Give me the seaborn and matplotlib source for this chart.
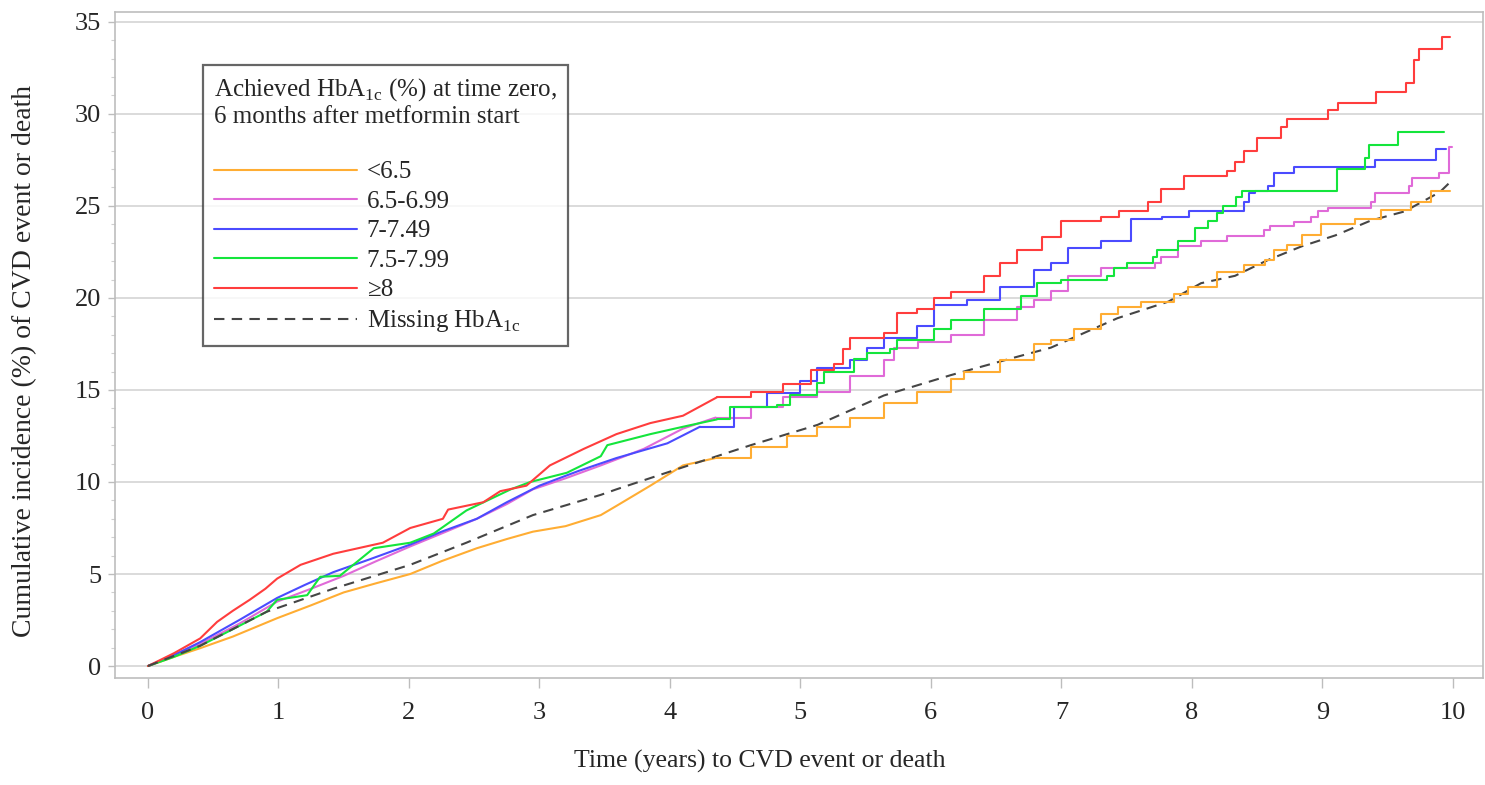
import numpy as np
import pandas as pd
import matplotlib
matplotlib.use("Agg")
import matplotlib.pyplot as plt
from matplotlib.ticker import MultipleLocator
import seaborn as sns

# Cumulative incidence curves (time in years, incidence in %)
lt65_t = [0, 0.2, 0.4, 0.65, 0.99, 1.25, 1.5, 1.75, 2.01, 2.25, 2.52, 2.75, 2.95, 3.2, 3.47, 3.59,
          3.85, 4.1, 4.35, 4.62, 4.9, 5.13, 5.38, 5.64, 5.89, 6.15, 6.25, 6.53, 6.79, 6.92, 7.1, 7.3,
          7.43, 7.61, 7.86, 7.97, 8.19, 8.40, 8.56, 8.63, 8.73, 8.84, 8.99, 9.25, 9.45, 9.68, 9.83, 9.98]
lt65_v = [0, 0.5, 0.97, 1.6, 2.6, 3.3, 4.0, 4.5, 5.0, 5.7, 6.4, 6.9, 7.3, 7.6, 8.2, 8.7,
          9.8, 10.9, 11.3, 11.9, 12.5, 13.0, 13.5, 14.3, 14.9, 15.6, 16.0, 16.6, 17.5, 17.7, 18.3, 19.1,
          19.5, 19.8, 20.2, 20.6, 21.4, 21.8, 22.05, 22.6, 22.9, 23.4, 24.0, 24.3, 24.8, 25.2, 25.8, 25.8]

g65_t = [0, 0.2, 0.4, 0.7, 0.99, 1.25, 1.5, 1.75, 2.01, 2.25, 2.52, 2.75, 2.95, 3.2, 3.47, 3.8,
         4.1, 4.35, 4.62, 4.87, 5.13, 5.38, 5.64, 5.72, 5.9, 6.15, 6.41, 6.66, 6.79, 6.92, 7.05, 7.3,
         7.72, 7.76, 7.89, 8.07, 8.27, 8.55, 8.6, 8.78, 8.91, 8.97, 9.04, 9.37, 9.40, 9.66, 9.69,
         9.89, 9.97, 9.99]
g65_v = [0, 0.6, 1.2, 2.3, 3.5, 4.2, 4.9, 5.7, 6.5, 7.2, 8.0, 8.8, 9.6, 10.2, 10.9, 11.8,
         12.9, 13.5, 14.1, 14.6, 14.9, 15.75, 16.6, 17.3, 17.6, 18.0, 18.8, 19.5, 19.9, 20.4, 21.2, 21.6,
         21.9, 22.2, 22.8, 23.1, 23.35, 23.7, 23.9, 24.1, 24.4, 24.7, 24.9, 25.2, 25.7, 26.1, 26.5,
         26.8, 28.2, 28.2]

g7_t = [0, 0.2, 0.4, 0.7, 0.99, 1.2, 1.42, 1.7, 2.01, 2.25, 2.52, 2.75, 3.0, 3.3, 3.59, 3.98,
        4.23, 4.49, 4.74, 5.0, 5.13, 5.38, 5.51, 5.64, 5.89, 6.02, 6.28, 6.53, 6.79, 6.92, 7.05, 7.3,
        7.53, 7.77, 7.98, 8.40, 8.44, 8.48, 8.58, 8.63, 8.78, 9.40, 9.87, 9.95]
g7_v = [0, 0.6, 1.3, 2.5, 3.7, 4.4, 5.1, 5.8, 6.6, 7.3, 8.0, 8.9, 9.8, 10.6, 11.3, 12.1,
        13.0, 14.1, 14.85, 15.5, 16.2, 16.6, 17.3, 17.8, 18.5, 19.6, 19.9, 20.6, 21.5, 21.9, 22.7, 23.1,
        24.3, 24.4, 24.7, 25.2, 25.7, 25.8, 26.1, 26.8, 27.1, 27.5, 28.1, 28.1]

g75_t = [0, 0.2, 0.4, 0.65, 0.91, 0.99, 1.22, 1.32, 1.47, 1.73, 2.01, 2.19, 2.44, 2.78, 2.93, 3.21,
         3.47, 3.52, 3.85, 4.1, 4.36, 4.46, 4.82, 4.92, 5.13, 5.18, 5.41, 5.51, 5.69, 5.74, 6.02, 6.15,
         6.41, 6.69, 6.81, 7.0, 7.35, 7.4, 7.5, 7.70, 7.73, 7.89, 8.02, 8.12, 8.19, 8.24, 8.34, 8.38,
         9.11, 9.33, 9.36, 9.58, 9.93]
g75_v = [0, 0.5, 1.1, 2.0, 2.95, 3.6, 3.85, 4.85, 4.9, 6.4, 6.7, 7.2, 8.45, 9.6, 10.0, 10.5,
         11.4, 12.0, 12.6, 13.0, 13.4, 14.1, 14.2, 14.7, 15.4, 16.0, 16.7, 17.0, 17.2, 17.7, 18.3, 18.8,
         19.4, 20.1, 20.8, 21.0, 21.2, 21.6, 21.9, 22.2, 22.6, 23.1, 23.8, 24.2, 24.6, 25.0, 25.5, 25.8,
         27.0, 27.6, 28.3, 29.0, 29.0]

g8_t = [0, 0.2, 0.4, 0.53, 0.65, 0.78, 0.9, 0.99, 1.17, 1.42, 1.8, 2.01, 2.26, 2.3, 2.57, 2.7,
        2.9, 3.08, 3.34, 3.59, 3.85, 4.1, 4.23, 4.36, 4.62, 4.87, 5.08, 5.26, 5.33, 5.38, 5.64, 5.74,
        5.89, 6.02, 6.15, 6.41, 6.53, 6.66, 6.85, 7.0, 7.3, 7.44, 7.66, 7.76, 7.94, 8.27, 8.33, 8.4,
        8.5, 8.68, 8.73, 9.04, 9.12, 9.41, 9.64, 9.7, 9.74, 9.92, 9.98]
g8_v = [0, 0.7, 1.5, 2.4, 3.0, 3.6, 4.2, 4.75, 5.5, 6.1, 6.7, 7.5, 8.0, 8.5, 8.9, 9.5,
        9.8, 10.9, 11.8, 12.6, 13.2, 13.6, 14.1, 14.6, 14.9, 15.3, 16.1, 16.4, 17.2, 17.8, 18.1, 19.2,
        19.4, 20.0, 20.3, 21.2, 21.9, 22.6, 23.3, 24.2, 24.4, 24.7, 25.2, 25.9, 26.6, 26.9, 27.4, 28.0,
        28.7, 29.3, 29.7, 30.2, 30.6, 31.2, 31.7, 32.9, 33.5, 34.2, 34.2]

miss_t = [0, 0.4, 0.91, 1.42, 2.01, 2.44, 2.95, 3.47, 3.59, 4.1, 4.62, 5.13, 5.64, 6.15, 6.66,
          6.92, 7.43, 7.82, 8.07, 8.33, 8.58, 8.84, 9.1, 9.37, 9.63, 9.9, 9.98]
miss_v = [0, 1.1, 2.95, 4.2, 5.5, 6.7, 8.2, 9.3, 9.6, 10.8, 12.0, 13.1, 14.7, 15.8, 16.8,
          17.3, 18.9, 19.8, 20.8, 21.2, 22.05, 22.8, 23.4, 24.2, 24.7, 25.75, 26.3]

groups = ["<6.5", "6.5-6.99", "7-7.49", "7.5-7.99", "≥8", "Missing HbA$_{\\mathrm{1c}}$"]
colors = ["#ffad33", "#e06ad8", "#4b4bff", "#14e53c", "#ff3d3d", "#454545"]

# early part of each curve has many tiny steps -> drawn as a line, later part as steps
step_from = {g: 4.4 for g in groups}
step_from[groups[-1]] = 99

early, late = [], []
for g, t, v in zip(groups, [lt65_t, g65_t, g7_t, g75_t, g8_t, miss_t],
                   [lt65_v, g65_v, g7_v, g75_v, g8_v, miss_v]):
    d = pd.DataFrame({"time": t, "inc": v, "group": g})
    cut = d.loc[d["time"] <= step_from[g], "time"].max()
    early.append(d[d["time"] <= cut])
    late.append(d[d["time"] >= cut])
early = pd.concat(early, ignore_index=True)
late = pd.concat(late, ignore_index=True)

sns.set_style("white")
plt.rcParams["font.family"] = ["Liberation Serif", "DejaVu Serif"]
plt.rcParams["mathtext.fontset"] = "custom"
plt.rcParams["mathtext.rm"] = "Liberation Serif"

fig = plt.figure(figsize=(14.85, 7.85), dpi=100)
ax = fig.add_axes([0.0774, 0.1363, 0.9212, 0.8488])

pal = dict(zip(groups, colors))
dashes = {g: "" for g in groups}
dashes[groups[-1]] = (5, 3.5)
sns.lineplot(data=early, x="time", y="inc", hue="group", style="group", hue_order=groups,
             style_order=groups, palette=pal, dashes=dashes, estimator=None,
             linewidth=1.5, ax=ax)
sns.lineplot(data=late, x="time", y="inc", hue="group", hue_order=groups[:-1], palette=pal,
             drawstyle="steps-post", estimator=None, linewidth=1.5, legend=False, ax=ax)

ax.set_xlim(-0.253, 10.23)
ax.set_ylim(-0.65, 35.55)
ax.set_xticks(range(0, 11))
ax.set_yticks(range(0, 36, 5))
ax.yaxis.set_minor_locator(MultipleLocator(1))
ax.grid(axis="y", color="#d4d4d4", linewidth=1.2)
ax.set_axisbelow(True)
for s in ax.spines.values():
    s.set_color("#bdbdbd")
    s.set_linewidth(1.2)
ax.tick_params(axis="x", which="major", length=7, width=1, color="#bdbdbd", pad=10,
               labelsize=19, bottom=True)
ax.tick_params(axis="y", which="major", length=5, width=1, color="#bdbdbd", pad=5,
               labelsize=19, left=True)
ax.tick_params(axis="y", which="minor", length=3, width=0.8, color="#cfcfcf", left=True)
ax.set_xlabel("Time (years) to CVD event or death", fontsize=18.5)
ax.set_ylabel("Cumulative incidence (%) of CVD event or death", fontsize=20)
ax.xaxis.set_label_coords(0.4715, -0.108)
ax.yaxis.set_label_coords(-0.057, 0.476)

handles, labels = ax.get_legend_handles_labels()
leg = ax.legend(handles, labels,
                title="Achieved HbA$_{\\mathrm{1c}}$ (%) at time zero,\n6 months after metformin start\n",
                loc="upper left", bbox_to_anchor=(0.0643, 0.92), borderaxespad=0,
                fontsize=18, title_fontsize=18, handlelength=5.7, handletextpad=0.4,
                labelspacing=0.28, borderpad=0.45, frameon=True, fancybox=False,
                alignment="left")
leg.get_frame().set_edgecolor("#404040")
leg.get_frame().set_linewidth(1.6)

fig.savefig("out.png", dpi=100)
